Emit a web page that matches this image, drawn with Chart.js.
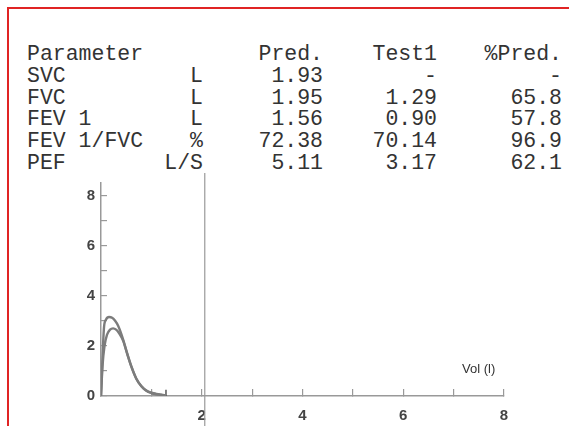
<!DOCTYPE html>
<html>
<head>
<meta charset="utf-8">
<script src="https://cdn.jsdelivr.net/npm/chart.js@4"></script>
<style>
  html, body { margin: 0; padding: 0; background: #fff; }
  #wrap { position: relative; width: 569px; height: 426px; overflow: hidden; background: #fff; }
  #frame { position: absolute; left: 7px; top: 7px; right: -5px; bottom: -5px;
           border-left: 2px solid #e02424; border-top: 2px solid #e02424; }
  #tabla { position: absolute; left: 0; top: 0; width: 569px; height: 180px;
           font-family: 'Liberation Mono', 'DejaVu Sans Mono', monospace; font-size: 21.5px;
           color: #333; }
  #tabla div { position: absolute; line-height: 22px; white-space: pre; }
  #grafico { position: absolute; left: 0; top: 0; }
  #volLabel { position: absolute; left: 462px; top: 361px; font-family: 'Liberation Sans', Arial, sans-serif;
              font-size: 13px; color: #333; }
</style>
</head>
<body>
<div id="wrap">
  <div id="frame"></div>
  <div id="tabla"></div>
  <canvas id="grafico" width="569" height="426"></canvas>
  <div id="volLabel">Vol (l)</div>
</div>
<script>
'use strict';

// Tabla de parámetros
const HEADERS   = ['Parameter', '', 'Pred.', 'Test1', '%Pred.'];
const PARAMS    = ['SVC', 'FVC', 'FEV 1', 'FEV 1/FVC', 'PEF'];
const UNITS     = ['L', 'L', 'L', '%', 'L/S'];
const PRED      = ['1.93', '1.95', '1.56', '72.38', '5.11'];
const TEST1     = ['-', '1.29', '0.90', '70.14', '3.17'];
const PCT_PRED  = ['-', '65.8', '57.8', '96.9', '62.1'];

// Curvas flujo-volumen (Vol en l, flujo en l/s)
const VOL_A  = [0, 0.02, 0.04, 0.06, 0.10, 0.16, 0.22, 0.28, 0.34, 0.44, 0.52, 0.60, 0.70, 0.80, 0.90, 1.00, 1.10, 1.20, 1.29];
const FLOW_A = [0, 1.0, 2.0, 2.75, 3.05, 3.15, 3.12, 3.0, 2.8, 2.25, 1.7, 1.2, 0.7, 0.4, 0.22, 0.13, 0.08, 0.05, 0.03];
const VOL_B  = [0, 0.03, 0.07, 0.12, 0.18, 0.24, 0.30, 0.36, 0.44, 0.52, 0.60, 0.70, 0.80, 0.90, 1.00, 1.10, 1.20, 1.27];
const FLOW_B = [0, 1.2, 2.0, 2.45, 2.65, 2.7, 2.65, 2.5, 2.2, 1.68, 1.18, 0.69, 0.39, 0.21, 0.12, 0.07, 0.04, 0.02];

// Marca final (FVC test) y línea de referencia vertical
const FVC_MARK_X = [1.29, 1.29];
const FVC_MARK_Y = [0, 0.25];
const REF_X = [2.06, 2.06];
const REF_Y = [-1.2, 8.9];

// Ejes
const X_MIN = 0, X_MAX = 8;
const Y_MIN = 0, Y_MAX = 8.5;

const GRAY = '#7c7c7c';
const AXIS = '#999';
const TICK_FONT = { family: "'Liberation Sans', Arial, sans-serif", size: 15, weight: 'bold' };

// columnas: [x derecha o izquierda, alineación]
const COLS = [[27, 'left'], [203, 'right'], [323, 'right'], [437, 'right'], [562, 'right']];
const ROW0 = 54, ROW_H = 21.8;

function pintarTabla() {
  const t = document.getElementById('tabla');
  const filas = [HEADERS].concat(PARAMS.map((p, i) => [p, UNITS[i], PRED[i], TEST1[i], PCT_PRED[i]]));
  filas.forEach((fila, r) => {
    fila.forEach((txt, c) => {
      if (!txt) return;
      const d = document.createElement('div');
      d.textContent = txt;
      d.style.top = (ROW0 + r * ROW_H - 11) + 'px';
      const [x, al] = COLS[c];
      if (al === 'left') d.style.left = x + 'px';
      else d.style.right = (569 - x) + 'px';
      t.appendChild(d);
    });
  });
}

const pts = (xs, ys) => xs.map((x, i) => ({ x, y: ys[i] }));

function pintarGrafico() {
  new Chart(document.getElementById('grafico'), {
    type: 'scatter',
    data: {
      datasets: [
        { data: pts(VOL_A, FLOW_A), showLine: true, borderColor: GRAY, borderWidth: 2.4,
          pointRadius: 0, cubicInterpolationMode: 'monotone' },
        { data: pts(VOL_B, FLOW_B), showLine: true, borderColor: GRAY, borderWidth: 2.4,
          pointRadius: 0, cubicInterpolationMode: 'monotone' },
        { data: pts(FVC_MARK_X, FVC_MARK_Y), showLine: true, borderColor: '#555', borderWidth: 1.5,
          pointRadius: 0 },
        { data: pts(REF_X, REF_Y), showLine: true, borderColor: AXIS, borderWidth: 1.2,
          pointRadius: 0, clip: false },
      ],
    },
    options: {
      responsive: false, animation: false,
      layout: { padding: { left: 71, top: 183, right: 65, bottom: 0 } },
      plugins: { legend: { display: false }, tooltip: { enabled: false } },
      scales: {
        x: {
          type: 'linear', min: X_MIN, max: X_MAX,
          afterFit: s => { s.height = 30; },
          border: { color: AXIS, width: 1.5 },
          grid: { drawOnChartArea: false, color: AXIS, tickLength: -7, lineWidth: 1.2 },
          ticks: { stepSize: 1, includeBounds: false, padding: 18, color: '#444', font: TICK_FONT,
                   callback: v => (v % 2 === 0 && v > 0) ? String(v) : '' },
        },
        y: {
          type: 'linear', min: Y_MIN, max: Y_MAX,
          afterFit: s => { s.width = 30; },
          border: { color: AXIS, width: 1.5 },
          grid: { drawOnChartArea: false, color: AXIS, tickLength: -6, lineWidth: 1.2 },
          ticks: { stepSize: 1, includeBounds: false, padding: 12, color: '#444', font: TICK_FONT,
                   callback: v => (v % 2 === 0) ? String(v) : '' },
        },
      },
    },
  });
}

pintarTabla();
pintarGrafico();
</script>
</body>
</html>
